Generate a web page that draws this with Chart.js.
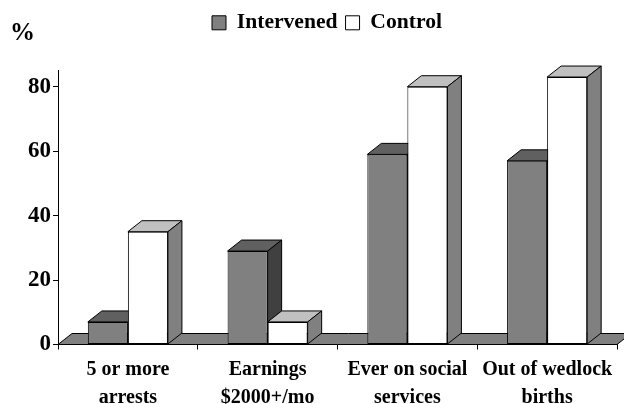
<!DOCTYPE html>
<html>
<head>
<meta charset="utf-8">
<style>html,body{margin:0;padding:0;background:#fff}#wrap{width:624px;height:404px}</style>
<script src="https://cdn.jsdelivr.net/npm/chart.js@4"></script>
</head>
<body>
<div id="wrap"><canvas id="c" width="624" height="404"></canvas></div>
<script>
const categories = [["5 or more","arrests"],["Earnings","$2000+/mo"],["Ever on social","services"],["Out of wedlock","births"]];
const intervened = [7, 29, 59, 57];
const control = [35, 7, 80, 83];
const yTicks = [0, 20, 40, 60, 80];
const seriesNames = ["Intervened", "Control"];
const FONT = "'Liberation Serif'";
const DX = 14, DY = 11;

function poly(ctx, pts, fill) {
  ctx.beginPath();
  pts.forEach((p, i) => i ? ctx.lineTo(p[0], p[1]) : ctx.moveTo(p[0], p[1]));
  ctx.closePath();
  ctx.fillStyle = fill;
  ctx.fill();
  ctx.stroke();
}
const depth3d = {
  id: 'depth3d',
  afterLayout(chart) {
    chart.legend.left = 204;
    chart.legend.top = 4;
  },
  beforeDatasetsDraw(chart) {
    const ctx = chart.ctx, y0 = chart.scales.y.getPixelForValue(0), a = chart.chartArea;
    ctx.save();
    ctx.strokeStyle = '#000';
    ctx.lineWidth = 1;
    poly(ctx, [[a.left, y0], [a.left + DX, y0 - DY], [a.right + DX, y0 - DY], [a.right, y0]], '#808080');
    const colours = [['#606060', '#404040'], ['#c0c0c0', '#808080']];
    chart.data.datasets.forEach((ds, d) => {
      chart.getDatasetMeta(d).data.forEach(bar => {
        const l = bar.x - bar.width / 2, r = bar.x + bar.width / 2, t = bar.y, b = bar.base;
        poly(ctx, [[l, t], [l + DX, t - DY], [r + DX, t - DY], [r, t]], colours[d][0]);
        poly(ctx, [[r, t], [r + DX, t - DY], [r + DX, b - DY], [r, b]], colours[d][1]);
      });
    });
    ctx.restore();
  },
  afterDraw(chart) {
    const ctx = chart.ctx;
    ctx.save();
    ctx.fillStyle = '#000';
    ctx.font = "bold 25px " + FONT;
    ctx.textBaseline = 'middle';
    ctx.fillText('%', 10, 34);
    ctx.restore();
  }
};

new Chart(document.getElementById('c'), {
  type: 'bar',
  data: {
    labels: categories,
    datasets: [
      { label: seriesNames[0], data: intervened, backgroundColor: '#808080', borderColor: '#000', borderWidth: 1, borderSkipped: false, barPercentage: 1, categoryPercentage: 0.573 },
      { label: seriesNames[1], data: control, backgroundColor: '#ffffff', borderColor: '#000', borderWidth: 1, borderSkipped: false, barPercentage: 1, categoryPercentage: 0.573 }
    ]
  },
  plugins: [depth3d],
  options: {
    responsive: false,
    animation: false,
    layout: { padding: { top: 31, right: 7, left: 0, bottom: 0 } },
    plugins: {
      tooltip: { enabled: false },
      legend: {
        display: true, position: 'top', align: 'start',
        labels: { boxWidth: 14, boxHeight: 14, padding: 8, color: '#000', font: { family: FONT, weight: 'bold', size: 21.6 } }
      }
    },
    scales: {
      x: {
        grid: { drawOnChartArea: false, color: '#000', tickLength: 5, offset: true },
        border: { color: '#000' },
        ticks: { color: '#000', maxRotation: 0, minRotation: 0, autoSkip: false, padding: 6, font: { family: FONT, weight: 'bold', size: 20, lineHeight: 1.4 } },
        afterFit(s) { s.height = 59.5; }
      },
      y: {
        min: 0, max: 85,
        afterBuildTicks(s) { s.ticks = yTicks.map(v => ({ value: v })); },
        grid: { drawOnChartArea: false, color: '#000', tickLength: 5 },
        border: { color: '#000' },
        ticks: { color: '#000', padding: 2, includeBounds: false, font: { family: FONT, weight: 'bold', size: 23 } },
        afterFit(s) { s.width = 58; }
      }
    }
  }
});
</script>
</body>
</html>
